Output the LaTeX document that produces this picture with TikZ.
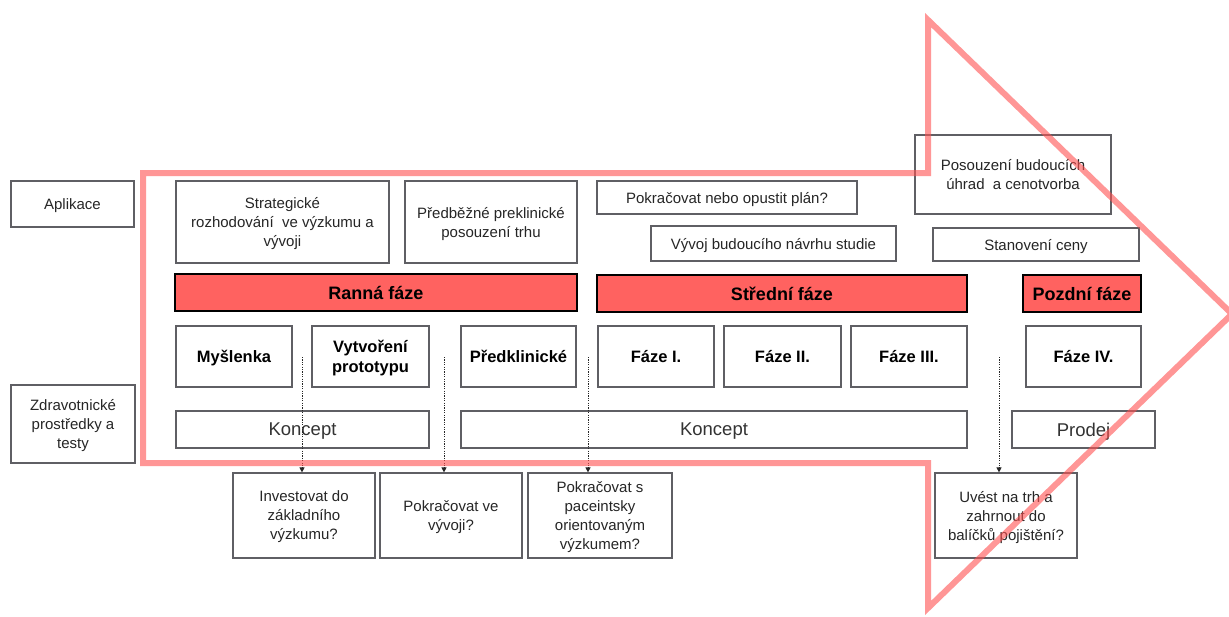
\documentclass[tikz,border=0pt]{standalone}
\usepackage{fontspec}
\setmainfont{Liberation Sans}
\usetikzlibrary{arrows.meta}
\definecolor{phasered}{RGB}{255,98,96}
\definecolor{arrowred}{RGB}{255,80,80}
\definecolor{boxgray}{RGB}{95,95,100}
\tikzset{
  box/.style={draw=boxgray, line width=1.2pt, fill=white, inner sep=0pt, align=center,
    text depth=0pt, text=black!85, font=\fontsize{15}{19}\selectfont},
  stage/.style={box, text=black, font=\fontsize{16.5}{20}\selectfont\bfseries},
  span/.style={box, text=black!80, font=\fontsize{18.5}{21}\selectfont},
  phase/.style={draw=black, line width=2.6pt, fill=phasered, inner sep=0pt, align=center,
    text depth=0pt, text=black, font=\fontsize{18}{21}\selectfont\bfseries},
  decision/.style={draw=black!85, line width=1pt, dash pattern=on 1.2pt off 1.2pt,
    -{Triangle[length=5pt,width=5pt]}},
  bigarrow/.style={draw=arrowred, draw opacity=0.6, line width=6pt, line join=miter}
}
% \bx{style}{name}{left}{top}{right}{bottom}{text}
\newcommand\bx[7]{%
  \node[#1, minimum width={(#5-#3)*1pt}, minimum height={(#6-#4)*1pt}]
    (#2) at ({(#3+#5)/2},{(#4+#6)/2}) {#7};}
\begin{document}
\begin{tikzpicture}[x=1pt,y=-1pt]
\useasboundingbox (0,0) rectangle (1229,616);
\fill[white] (0,0) rectangle (1229,616);

% row labels
\bx{box}{apl}{11}{181}{134}{227}{Aplikace}
\bx{box}{zdr}{11}{385}{135}{463}{Zdravotnické\\prostředky a\\testy}

% application boxes
\bx{box}{strat}{176}{181}{389}{263}{Strategické\\rozhodování\ \ ve výzkumu a\\vývoji}
\bx{box}{predb}{405}{181}{577}{263}{Předběžné preklinické\\posouzení trhu}
\bx{box}{pokr}{597}{181}{857}{214}{Pokračovat nebo opustit plán?}
\bx{box}{vyvoj}{651}{226}{896}{261}{Vývoj budoucího návrhu studie}
\bx{box}{posou}{915}{135}{1111}{214}{Posouzení budoucích\\úhrad\ \ a cenotvorba}
\bx{box}{stanov}{933}{228}{1139}{261}{Stanovení ceny}

% phase bars
\bx{phase}{ranna}{175}{274}{577}{311}{Ranná fáze}
\bx{phase}{stredni}{597}{275}{967}{312}{Střední fáze}
\bx{phase}{pozdni}{1023}{275}{1141}{312}{Pozdní fáze}

% stages
\bx{stage}{mysl}{176}{326}{292}{387}{Myšlenka}
\bx{stage}{proto}{312}{326}{429}{387}{Vytvoření\\prototypu}
\bx{stage}{predkl}{461}{326}{576}{387}{Předklinické}
\bx{stage}{f1}{598}{326}{714}{387}{Fáze I.}
\bx{stage}{f2}{724}{326}{841}{387}{Fáze II.}
\bx{stage}{f3}{851}{326}{967}{387}{Fáze III.}
\bx{stage}{f4}{1026}{326}{1141}{387}{Fáze IV.}

% spans
\bx{span}{konc1}{176}{411}{429}{448}{Koncept}
\bx{span}{konc2}{461}{411}{967}{448}{Koncept}
\bx{span}{prodej}{1012}{411}{1155}{448}{Prodej}

% decision questions
\bx{box}{q1}{233}{473}{375}{558}{Investovat do\\základního\\výzkumu?}
\bx{box}{q2}{380}{473}{522}{558}{Pokračovat ve\\vývoji?}
\bx{box}{q3}{528}{473}{672}{558}{Pokračovat s\\paceintsky\\orientovaným\\výzkumem?}
\bx{box}{q4}{935}{473}{1077}{558}{Uvést na trh a\\zahrnout do\\balíčků pojištění?}

% decision points between stages
\coordinate (d1) at (302,357);
\coordinate (d2) at (444,357);
\coordinate (d3) at (588,357);
\coordinate (d4) at (999,357);
\draw[decision] (d1) -- (d1 |- q1.north);
\draw[decision] (d2) -- (d2 |- q2.north);
\draw[decision] (d3) -- (d3 |- q3.north);
\draw[decision] (d4) -- (d4 |- q4.north);

% large outline arrow
\draw[bigarrow] (143,173) -- (928,173) -- (928,20) -- (1232,314) -- (928,608)
  -- (928,463) -- (143,463) -- cycle;
\end{tikzpicture}
\end{document}
